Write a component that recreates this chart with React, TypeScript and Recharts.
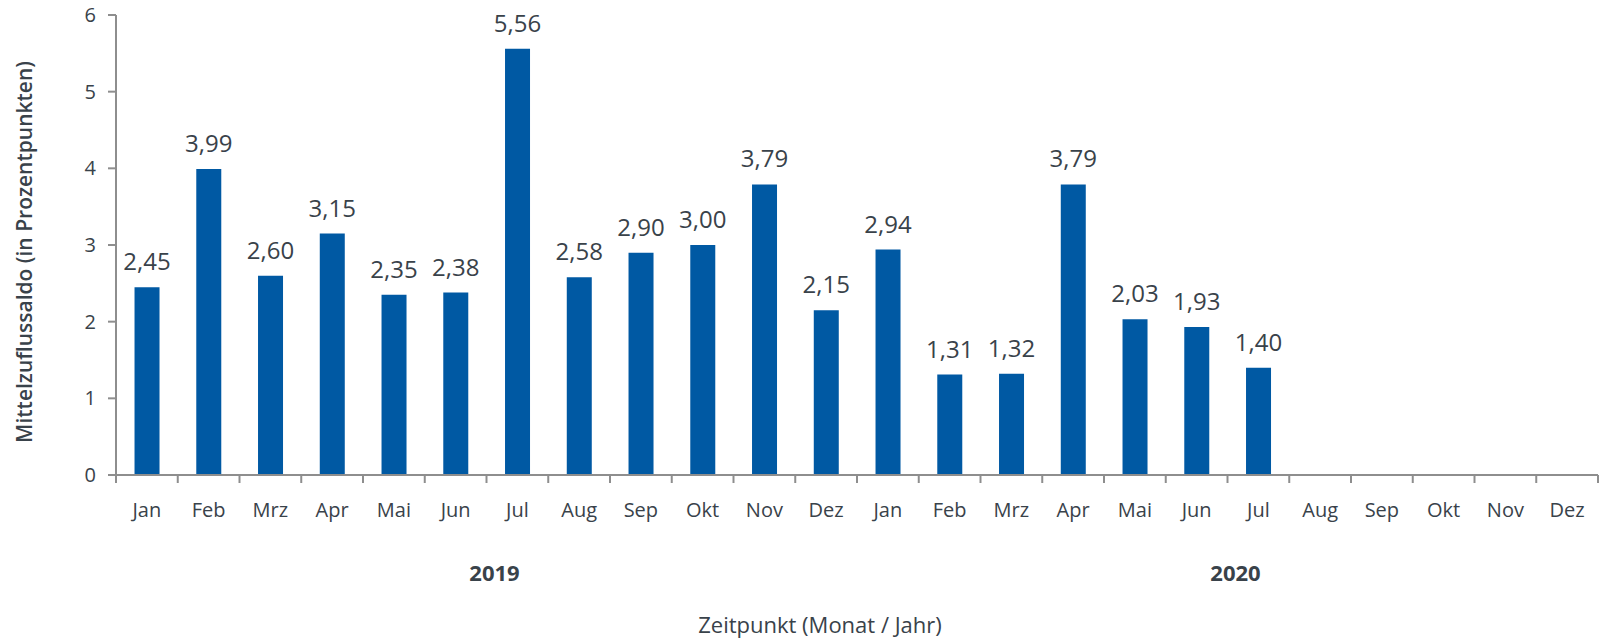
import React from 'react';
import { BarChart, Bar, XAxis, YAxis, LabelList, Label } from 'recharts';

const months = ['Jan', 'Feb', 'Mrz', 'Apr', 'Mai', 'Jun', 'Jul', 'Aug', 'Sep', 'Okt', 'Nov', 'Dez',
  'Jan', 'Feb', 'Mrz', 'Apr', 'Mai', 'Jun', 'Jul', 'Aug', 'Sep', 'Okt', 'Nov', 'Dez'];
const years = ['2019', '2020'];
const values: (number | null)[] = [2.45, 3.99, 2.60, 3.15, 2.35, 2.38, 5.56, 2.58, 2.90, 3.00, 3.79, 2.15,
  2.94, 1.31, 1.32, 3.79, 2.03, 1.93, 1.40, null, null, null, null, null];
const yTicks = [0, 1, 2, 3, 4, 5, 6];

const data = months.map((m, i) => ({ month: m, value: values[i] }));

const FONT = "'Open Sans', 'DejaVu Sans', sans-serif";
const TEXT = '#39424a';
const AXIS = '#8e8e8e';
const BAR = '#0059a3';
const W = 1600;
const H = 639;
const MARGIN = { top: 15, right: 2, bottom: 0, left: 0 };
const YW = 116;
const XH = 164;
const BAND = (W - MARGIN.left - MARGIN.right - YW) / months.length;

const MonthTick = (props: any) => {
  const { x, y, payload, index } = props;
  const half = payload && typeof payload.offset === 'number' && payload.offset > 0 ? payload.offset : BAND / 2;
  const isLast = index === months.length - 1;
  const yearIdx = index % 12 === 6 ? Math.floor(index / 12) : -1;
  return (
    <g>
      <line x1={x - half} x2={x - half} y1={y} y2={y + 8} stroke={AXIS} strokeWidth={2} />
      {isLast && <line x1={x + half} x2={x + half} y1={y} y2={y + 8} stroke={AXIS} strokeWidth={2} />}
      <text x={x} y={y + 42} textAnchor="middle" fill={TEXT} fontSize={20} fontFamily={FONT}>
        {payload.value}
      </text>
      {yearIdx >= 0 && (
        <text x={x - half + 8} y={y + 106} textAnchor="middle" fill={TEXT} fontSize={22} fontWeight={700} fontFamily={FONT}>
          {years[yearIdx]}
        </text>
      )}
    </g>
  );
};

const YTitle = (props: any) => {
  const vb = props.viewBox || { x: 0, y: 0, width: 0, height: 0 };
  const cx = vb.x + 24;
  const cy = vb.y + vb.height / 2 + 7;
  return (
    <text x={cx} y={cy} transform={`rotate(-90, ${cx}, ${cy})`} textAnchor="middle" dominantBaseline="central"
      fill={TEXT} fontSize={21} fontWeight={600} fontFamily={FONT}>
      Mittelzuflussaldo (in Prozentpunkten)
    </text>
  );
};

const XTitle = (props: any) => {
  const vb = props.viewBox || { x: 0, y: 0, width: 0, height: 0 };
  return (
    <text x={vb.x + vb.width / 2 - 37} y={vb.y + 158} textAnchor="middle" fill={TEXT} fontSize={22} fontFamily={FONT}>
      Zeitpunkt (Monat / Jahr)
    </text>
  );
};

const fmt = (v: any) => (v === null || v === undefined ? '' : Number(v).toFixed(2).replace('.', ','));

export default function App() {
  return (
    <div style={{ position: 'absolute', left: 0, top: 0, background: '#fff' }}>
      <BarChart width={W} height={H} data={data} margin={MARGIN} barCategoryGap="30%">
        <XAxis
          dataKey="month"
          interval={0}
          height={XH}
          tickSize={0}
          tickMargin={0}
          tickLine={false}
          axisLine={{ stroke: AXIS, strokeWidth: 2 }}
          tick={<MonthTick />}
        >
          <Label content={<XTitle />} />
        </XAxis>
        <YAxis
          width={YW}
          domain={[0, 6]}
          ticks={yTicks}
          interval={0}
          tickSize={8}
          tickMargin={12}
          axisLine={{ stroke: AXIS, strokeWidth: 2 }}
          tickLine={{ stroke: AXIS, strokeWidth: 2 }}
          tick={{ fill: TEXT, fontSize: 20, fontFamily: FONT }}
        >
          <Label content={<YTitle />} />
        </YAxis>
        <Bar dataKey="value" fill={BAR} isAnimationActive={false}>
          <LabelList dataKey="value" position="top" offset={17} formatter={fmt}
            style={{ fill: TEXT, fontSize: 24, fontFamily: FONT }} />
        </Bar>
      </BarChart>
    </div>
  );
}
